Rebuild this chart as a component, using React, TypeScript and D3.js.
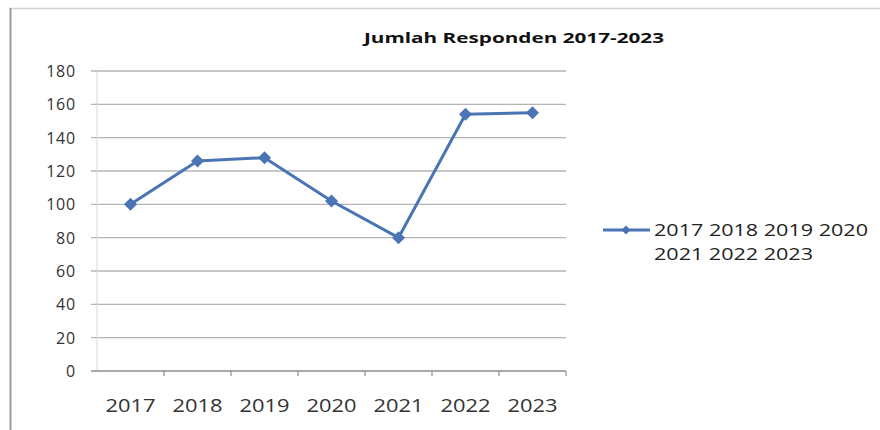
import React from "react";
import * as d3 from "d3";

const categories = ["2017", "2018", "2019", "2020", "2021", "2022", "2023"];
const values = [100, 126, 128, 102, 80, 154, 155];
const yTicks = [0, 20, 40, 60, 80, 100, 120, 140, 160, 180];
const title = "Jumlah Responden 2017-2023";
const legendLines = ["2017 2018 2019 2020", "2021 2022 2023"];

const W = 880;
const H = 430;
const plot = { left: 97, right: 566, top: 71, bottom: 371 };
const blue = "#4A74B3";
const font = "'Open Sans', 'DejaVu Sans', sans-serif";

export default function App() {
  const x = d3
    .scaleBand<string>()
    .domain(categories)
    .range([plot.left, plot.right])
    .paddingInner(0)
    .paddingOuter(0);
  const y = d3.scaleLinear().domain([0, 180]).range([plot.bottom, plot.top]);
  const cx = (c: string) => (x(c) as number) + x.bandwidth() / 2;
  const line = d3
    .line<number>()
    .x((_, i) => cx(categories[i]))
    .y((d) => y(d));
  const diamond = (px: number, py: number, r: number) =>
    `M${px},${py - r}L${px + r},${py}L${px},${py + r}L${px - r},${py}Z`;
  const boundaries = categories.map((c) => x(c) as number).concat([plot.right]);

  return (
    <svg
      width={W}
      height={H}
      style={{ position: "absolute", left: 0, top: 0, background: "#fff" }}
    >
      <rect x={0} y={0} width={W} height={H} fill="#fff" />
      {/* outer frame */}
      <line x1={10} x2={W} y1={8.5} y2={8.5} stroke="#d0d0d0" strokeWidth={1.5} />
      <line x1={10.5} x2={10.5} y1={8} y2={H} stroke="#9a9a9a" strokeWidth={2} />

      <text
        x={514}
        y={43}
        textAnchor="middle"
        fontFamily={font}
        fontWeight="bold"
        fontSize={15}
        fill="#111"
        textLength={300}
        lengthAdjust="spacingAndGlyphs"
      >
        {title}
      </text>

      {/* gridlines */}
      {yTicks.map((t) => (
        <g key={t}>
          {t !== 0 && (
            <line
              x1={plot.left - 6}
              x2={plot.right}
              y1={y(t)}
              y2={y(t)}
              stroke="#b4b4b4"
              strokeWidth={1.3}
            />
          )}
          <text
            x={76}
            y={y(t) + 6}
            textAnchor="end"
            fontFamily={font}
            fontSize={16}
            fill="#333"
            letterSpacing={0.8}
          >
            {t}
          </text>
        </g>
      ))}

      {/* y axis */}
      <line x1={plot.left} x2={plot.left} y1={plot.top} y2={plot.bottom} stroke="#d8d8d8" strokeWidth={1} />
      {/* x axis */}
      <line x1={plot.left - 6} x2={plot.right} y1={plot.bottom} y2={plot.bottom} stroke="#8c8c8c" strokeWidth={1.3} />
      {boundaries.slice(1).map((b, i) => (
        <line key={i} x1={b} x2={b} y1={plot.bottom} y2={plot.bottom + 5} stroke="#8c8c8c" strokeWidth={1.2} />
      ))}
      {categories.map((c) => (
        <text
          key={c}
          x={cx(c)}
          y={412}
          textAnchor="middle"
          fontFamily={font}
          fontSize={18}
          fill="#333"
          textLength={50}
          lengthAdjust="spacingAndGlyphs"
        >
          {c}
        </text>
      ))}

      {/* series */}
      <path d={line(values) as string} fill="none" stroke={blue} strokeWidth={3} strokeLinejoin="round" />
      {values.map((v, i) => (
        <path key={i} d={diamond(cx(categories[i]), y(v), 6.5)} fill={blue} />
      ))}

      {/* legend */}
      <line x1={603} x2={650} y1={230} y2={230} stroke={blue} strokeWidth={3} />
      <path d={diamond(626, 230, 4.5)} fill={blue} />
      {legendLines.map((l, i) => (
        <text
          key={i}
          x={654}
          y={236 + i * 24}
          fontFamily={font}
          fontSize={17}
          fill="#222"
          textLength={i === 0 ? 214 : 159}
          lengthAdjust="spacingAndGlyphs"
        >
          {l}
        </text>
      ))}
    </svg>
  );
}
